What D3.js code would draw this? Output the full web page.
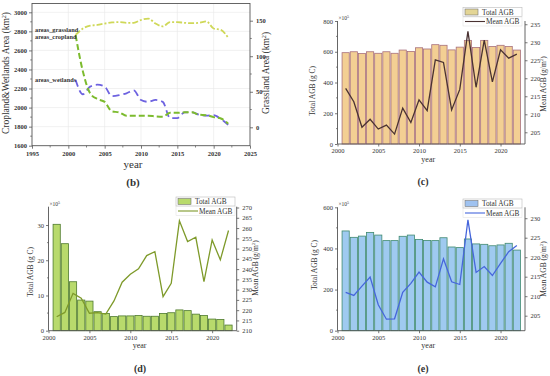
<!DOCTYPE html>
<html><head><meta charset="utf-8">
<script src="https://cdn.jsdelivr.net/npm/d3@7"></script>
<style>
body{margin:0;background:#fff}
svg{display:block}
text{font-family:"Liberation Serif","Times New Roman",serif;fill:#333}
</style>
</head><body>
<svg id="chart" width="550" height="376"></svg>
<script>
// ---------- DATA ----------
const years = [2001,2002,2003,2004,2005,2006,2007,2008,2009,2010,2011,2012,2013,2014,2015,2016,2017,2018,2019,2020,2021,2022];

// (b) land areas
const grassland = [130,139,143,144,146,147.5,148,147,147,151,153,146,142,148,148,147,146.5,147,149,139,137,126];
const cropland  = [2760,2380,2150,2090,2060,1960,1950,1915,1915,1915,1915,1908,1905,1945,1945,1950,1950,1925,1920,1900,1885,1830];
const wetlands  = [2290,2140,2220,2240,2220,2120,2130,2150,2180,2080,2060,2080,2060,1890,1890,1950,1950,1925,1915,1920,1880,1820];
const bXTicks = [1995,2000,2005,2010,2015,2020,2025];
const bLeftTicks = [1600,1800,2000,2200,2400,2600,2800,3000];
const bRightTicks = [0,50,100,150];
const bSeriesNames = ["areas_grassland","areas_cropland","areas_wetlands"];

// (c)
const cTotal = [594,600,588,600,590,600,590,611,602,626,618,646,642,612,630,674,628,674,634,642,634,611];
const cMean  = [217.2,213.5,206.4,208.6,205.9,207,204.5,211.7,207.7,214,211,225.1,224.4,211.2,216.9,233,217.5,230.6,219,227.9,225.6,226.7];
const cLeftTicks = [0,200,400,600,800];
const cRightTicks = [205,210,215,220,225,230,235];

// (d)
const dTotal = [30.2,24.7,13.9,8.7,8.4,5.4,4.9,4.0,4.2,4.2,4.3,4.1,4.1,4.9,5.1,5.9,5.7,4.7,4.3,3.3,3.2,1.6];
const dMean  = [216.8,218.9,228.2,225.8,218.5,218.8,218.1,224.5,233.6,237.5,240.1,246.6,248.5,226.6,233.1,263.5,253.4,255.5,233.9,254.2,244.5,258.8];
const dLeftTicks = [0,10,20,30];
const dRightTicks = [210,215,220,225,230,235,240,245,250,255,260,265,270];

// (e)
const eTotal = [485,454,460,478,465,438,438,459,465,444,439,438,452,407,404,446,422,420,413,417,425,392];
const eMean  = [211,210.2,212.6,214.9,207.8,204.1,204.2,211,213.3,216.2,213.6,212.4,219.6,213.7,213,229.6,216.1,217.6,215.3,218.4,221.4,223];
const eLeftTicks = [0,200,400,600];
const eRightTicks = [205,210,215,220,225,230];

const aggXTicks = [2000,2005,2010,2015,2020];
const legendNames = ["Total AGB","Mean AGB"];

// ---------- DRAW ----------
const svg = d3.select("#chart");
const axisColor = "#555";

function styleAxis(g, fs, bold){
  g.selectAll("path.domain").remove();
  g.selectAll("line").attr("stroke", axisColor).attr("stroke-width", 0.8);
  g.selectAll("text").style("font-size", fs + "px").attr("fill", "#333")
    .style("font-weight", bold ? "bold" : "normal");
}

function minorTicks(g, scale, vals, orient, pos, size){
  vals.forEach(v => {
    const p = scale(v);
    if (orient === "left") g.append("line").attr("x1", pos - size).attr("x2", pos).attr("y1", p).attr("y2", p);
    else if (orient === "right") g.append("line").attr("x1", pos).attr("x2", pos + size).attr("y1", p).attr("y2", p);
    else g.append("line").attr("x1", p).attr("x2", p).attr("y1", pos).attr("y2", pos + size);
  });
  g.selectAll("line").attr("stroke", axisColor).attr("stroke-width", 0.7);
}

function midpoints(ticks){
  const out = [];
  for (let i = 0; i < ticks.length - 1; i++) out.push((ticks[i] + ticks[i+1]) / 2);
  return out;
}

function rotText(x, y, txt, fs, sup){
  const t = svg.append("text").attr("transform", `translate(${x},${y}) rotate(-90)`)
    .attr("text-anchor", "middle").style("font-size", fs + "px");
  t.append("tspan").text(txt);
  if (sup) {
    t.append("tspan").attr("dy", -fs*0.35).style("font-size", (fs*0.65) + "px").text("2");
    t.append("tspan").attr("dy", fs*0.35).text(")");
  }
}

// ===== Panel (b) =====
(function(){
  const L = 32, R = 250, T = 3.5, B = 145.7;
  const x = d3.scaleLinear().domain([1995, 2025]).range([L, R]);
  const yL = d3.scaleLinear().domain([1600, 3000]).range([B, 12.3]);
  const yR = d3.scaleLinear().domain([0, 150]).range([127.3, 20.7]);

  // grid
  const grid = svg.append("g");
  bXTicks.slice(1, -1).forEach(v => grid.append("line").attr("x1", x(v)).attr("x2", x(v)).attr("y1", T).attr("y2", B));
  bLeftTicks.slice(1).forEach(v => grid.append("line").attr("x1", L).attr("x2", R).attr("y1", yL(v)).attr("y2", yL(v)));
  grid.selectAll("line").attr("stroke", "#e8e8e8").attr("stroke-width", 0.6);

  // frame
  svg.append("rect").attr("x", L).attr("y", T).attr("width", R - L).attr("height", B - T)
    .attr("fill", "none").attr("stroke", axisColor).attr("stroke-width", 0.9);

  const gx = svg.append("g").attr("transform", `translate(0,${B})`)
    .call(d3.axisBottom(x).tickValues(bXTicks).tickFormat(d3.format("d")).tickSize(3).tickPadding(3));
  styleAxis(gx, 6.5, true);
  minorTicks(svg.append("g"), x, midpoints(bXTicks), "bottom", B, 1.8);

  const gl = svg.append("g").attr("transform", `translate(${L},0)`)
    .call(d3.axisLeft(yL).tickValues(bLeftTicks).tickFormat(d3.format("d")).tickSize(3).tickPadding(2));
  styleAxis(gl, 6.5, true);
  minorTicks(svg.append("g"), yL, midpoints(bLeftTicks), "left", L, 1.8);

  const gr = svg.append("g").attr("transform", `translate(${R},0)`)
    .call(d3.axisRight(yR).tickValues(bRightTicks).tickFormat(d3.format("d")).tickSize(3).tickPadding(3));
  styleAxis(gr, 6.5, true);
  minorTicks(svg.append("g"), yR, midpoints(bRightTicks), "right", R, 1.8);

  const lineL = d3.line().x((d,i) => x(years[i])).y(d => yL(d)).curve(d3.curveMonotoneX);
  const lineR = d3.line().x((d,i) => x(years[i])).y(d => yR(d)).curve(d3.curveMonotoneX);

  svg.append("path").attr("d", lineL(wetlands)).attr("fill", "none")
    .attr("stroke", "#6d62e0").attr("stroke-width", 1.8).attr("stroke-dasharray", "7,4");
  svg.append("path").attr("d", lineL(cropland)).attr("fill", "none")
    .attr("stroke", "#7cbb2e").attr("stroke-width", 2).attr("stroke-dasharray", "6,3");
  svg.append("path").attr("d", lineR(grassland)).attr("fill", "none")
    .attr("stroke", "#cfd858").attr("stroke-width", 1.8).attr("stroke-dasharray", "6,2,2,2");

  // series labels
  const labY = [yR(grassland[0]) - 3, yL(cropland[0]) + 4, yL(wetlands[0]) + 2];
  bSeriesNames.forEach((n, i) => {
    svg.append("text").attr("x", 35).attr("y", labY[i]).text(n)
      .style("font-size", "6.3px").style("font-weight", "bold").attr("fill", "#333");
  });

  rotText(9, 73, "Cropland&Wetlands Area (km", 9.5, true);
  rotText(269, 73, "Grassland Area (km", 9.5, true);
  svg.append("text").attr("x", 133).attr("y", 168).attr("text-anchor", "middle").style("font-size", "11px").text("year");
  svg.append("text").attr("x", 133).attr("y", 186).attr("text-anchor", "middle")
    .style("font-size", "11px").style("font-weight", "bold").attr("fill", "#111").text("(b)");
})();

// ===== Bar + line panels =====
function aggPanel(o){
  const x = d3.scaleLinear().domain([2000, 2023]).range([o.L, o.R]);
  const yL = d3.scaleLinear().domain(o.leftDomain).range([o.B, o.T]);
  const yR = d3.scaleLinear().domain(o.rightDomain).range([o.B, o.T]);
  const bw = (x(1) - x(0)) * 0.88;

  svg.append("g").selectAll("rect").data(o.total).join("rect")
    .attr("x", (d,i) => x(years[i]) - bw/2).attr("width", bw)
    .attr("y", d => yL(d)).attr("height", d => o.B - yL(d))
    .attr("fill", o.barFill).attr("stroke", o.barStroke).attr("stroke-width", 0.8);

  // axes
  const ax = svg.append("g");
  ax.append("line").attr("x1", o.L).attr("x2", o.R).attr("y1", o.B).attr("y2", o.B);
  ax.append("line").attr("x1", o.L).attr("x2", o.L).attr("y1", o.B).attr("y2", o.T);
  ax.append("line").attr("x1", o.R).attr("x2", o.R).attr("y1", o.B).attr("y2", o.T);
  ax.selectAll("line").attr("stroke", axisColor).attr("stroke-width", 0.9);

  const gx = svg.append("g").attr("transform", `translate(0,${o.B})`)
    .call(d3.axisBottom(x).tickValues(aggXTicks).tickFormat(d3.format("d")).tickSize(2.5).tickPadding(2));
  styleAxis(gx, 6.5, false);
  const gl = svg.append("g").attr("transform", `translate(${o.L},0)`)
    .call(d3.axisLeft(yL).tickValues(o.leftTicks).tickFormat(d3.format("d")).tickSize(2.5).tickPadding(2));
  styleAxis(gl, 6.5, false);
  minorTicks(svg.append("g"), yL, midpoints(o.leftTicks), "left", o.L, 1.5);
  const gr = svg.append("g").attr("transform", `translate(${o.R},0)`)
    .call(d3.axisRight(yR).tickValues(o.rightTicks).tickFormat(d3.format("d")).tickSize(2.5).tickPadding(3));
  styleAxis(gr, 6.5, false);

  const line = d3.line().x((d,i) => x(years[i])).y(d => yR(d));
  svg.append("path").attr("d", line(o.mean)).attr("fill", "none")
    .attr("stroke", o.lineColor).attr("stroke-width", 1.3);

  // x10^5
  const m = svg.append("text").attr("x", o.L + 1).attr("y", o.T - 1).style("font-size", "5.5px");
  m.append("tspan").text("\u00d710");
  m.append("tspan").attr("dy", -2).style("font-size", "4px").text("5");

  rotText(o.leftTitleX, o.leftTitleY, "Total AGB (g C)", 7.5, false);
  rotText(o.rightTitleX, o.rightTitleY, "Mean AGB (g/m", 7.5, true);
  svg.append("text").attr("x", (o.L + o.R)/2 - 3).attr("y", o.B + 17.5).attr("text-anchor", "middle")
    .style("font-size", "8px").text("year");
  svg.append("text").attr("x", o.labelX).attr("y", o.B + 41).attr("text-anchor", "middle")
    .style("font-size", "10px").style("font-weight", "bold").attr("fill", "#111").text(o.label);

  // legend
  const lg = svg.append("g").attr("transform", `translate(${o.legX},${o.legY})`);
  lg.append("rect").attr("x", 0).attr("y", 0).attr("width", 59).attr("height", 9)
    .attr("fill", "#fff").attr("stroke", "#bbb").attr("stroke-width", 0.6);
  lg.append("rect").attr("x", 0).attr("y", 9.5).attr("width", 59).attr("height", 9)
    .attr("fill", "#fff").attr("stroke", "#ddd").attr("stroke-width", 0.5);
  lg.append("rect").attr("x", 2).attr("y", 1.5).attr("width", 13).attr("height", 6)
    .attr("fill", o.legFill).attr("stroke", "#777").attr("stroke-width", 0.6);
  lg.append("text").attr("x", 19).attr("y", 7).style("font-size", "7.3px").text(legendNames[0]);
  lg.append("line").attr("x1", 2).attr("x2", 22).attr("y1", 14).attr("y2", 14)
    .attr("stroke", o.lineColor).attr("stroke-width", 1.1);
  lg.append("text").attr("x", 23).attr("y", 16.5).style("font-size", "7.3px").text(legendNames[1]);
}

aggPanel({L: 337.5, R: 525, T: 21, B: 144,
  leftDomain: [0, 800], rightDomain: [201.75, 235.9],
  leftTicks: cLeftTicks, rightTicks: cRightTicks,
  total: cTotal, mean: cMean,
  barFill: "#f3cf93", barStroke: "#a8707c", lineColor: "#4a3232", legFill: "#e3d595",
  leftTitleX: 315, leftTitleY: 91, rightTitleX: 546, rightTitleY: 84,
  labelX: 423, label: "(c)", legX: 463, legY: 7.5});

aggPanel({L: 48.5, R: 236.7, T: 206.7, B: 330.7,
  leftDomain: [0, 35.2], rightDomain: [210, 270.4],
  leftTicks: dLeftTicks, rightTicks: dRightTicks,
  total: dTotal, mean: dMean,
  barFill: "#b8da6c", barStroke: "#4e7a2e", lineColor: "#7e9a2a", legFill: "#b8da6c",
  leftTitleX: 33, leftTitleY: 272, rightTitleX: 258, rightTitleY: 268,
  labelX: 140, label: "(d)", legX: 176, legY: 197});

aggPanel({L: 337.5, R: 525, T: 207.3, B: 330.7,
  leftDomain: [0, 600], rightDomain: [201.15, 232.8],
  leftTicks: eLeftTicks, rightTicks: eRightTicks,
  total: eTotal, mean: eMean,
  barFill: "#9fcaf0", barStroke: "#3f8a70", lineColor: "#4666dc", legFill: "#9fc2f0",
  leftTitleX: 317, leftTitleY: 265, rightTitleX: 546, rightTitleY: 269,
  labelX: 423, label: "(e)", legX: 463, legY: 199});
</script>
</body></html>
